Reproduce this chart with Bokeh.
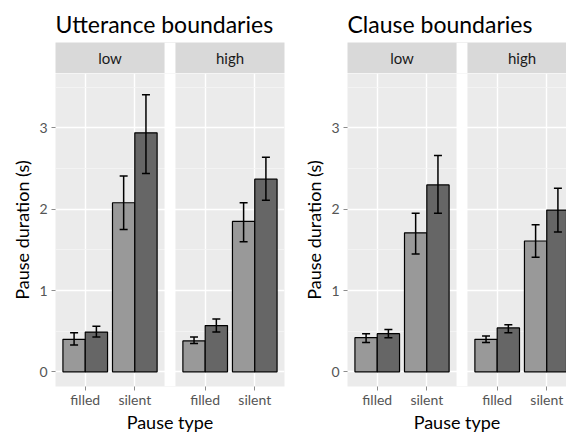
from bokeh.plotting import figure
from bokeh.layouts import row, column
from bokeh.models import Range1d, FixedTicker, ColumnDataSource, Whisker, TeeHead
from bokeh.core.properties import value
from bokeh.embed import file_html
from bokeh.resources import INLINE

# ---------------- data ----------------
pause_types = ["filled", "silent"]
facets = ["low", "high"]
panel_titles = ["Utterance boundaries", "Clause boundaries"]
y_ticks = [0, 1, 2, 3]
y_minor = [0.5, 1.5, 2.5, 3.5]

# Utterance boundaries: two groups (light / dark) per facet
utt_low_a = [0.40, 2.08]
utt_low_a_lo = [0.33, 1.75]
utt_low_a_hi = [0.48, 2.41]
utt_low_b = [0.49, 2.94]
utt_low_b_lo = [0.43, 2.44]
utt_low_b_hi = [0.56, 3.41]
utt_high_a = [0.38, 1.85]
utt_high_a_lo = [0.35, 1.60]
utt_high_a_hi = [0.43, 2.08]
utt_high_b = [0.57, 2.37]
utt_high_b_lo = [0.49, 2.11]
utt_high_b_hi = [0.65, 2.64]

# Clause boundaries
cl_low_a = [0.42, 1.71]
cl_low_a_lo = [0.36, 1.45]
cl_low_a_hi = [0.47, 1.95]
cl_low_b = [0.47, 2.30]
cl_low_b_lo = [0.42, 1.95]
cl_low_b_hi = [0.52, 2.66]
cl_high_a = [0.40, 1.61]
cl_high_a_lo = [0.36, 1.41]
cl_high_a_hi = [0.44, 1.81]
cl_high_b = [0.54, 1.99]
cl_high_b_lo = [0.48, 1.72]
cl_high_b_hi = [0.58, 2.26]

# ---------------- styling / layout ----------------
FONT = "Lato"
PANEL_BG = "#EBEBEB"
STRIP_BG = "#D9D9D9"
COL_A = "#999999"
COL_B = "#666666"
STEP = 2.42           # x offset between facets (panel width 2.2 + gap)
GAP_L, GAP_R = 2.6, 0.4 + STEP
DODGE = 0.225
BAR_W = 0.45
Y0, Y1 = -0.18, 3.67
LEFT_B = 55
STRIP_H = 31
TOP_B = 42
MAIN_H = 362
BOTTOM_B = 48
UNIT_PX = 229 / (2.6 + STEP - 0.4)


def make_half(title, groups, width, right_border):
    frame_w = width - LEFT_B - right_border
    xr = Range1d(0.4, 0.4 + frame_w / UNIT_PX)

    # strip + title figure
    s = figure(width=width, height=TOP_B + STRIP_H, x_range=xr, y_range=Range1d(0, 1),
               output_backend="svg", toolbar_location=None,
               x_axis_location=None, y_axis_location=None,
               min_border_left=LEFT_B, min_border_right=right_border,
               min_border_top=TOP_B, min_border_bottom=0, title=title)
    s.background_fill_color = STRIP_BG
    s.border_fill_color = "white"
    s.outline_line_color = None
    s.grid.visible = False
    s.title.text_font = FONT
    s.title.text_font_size = "23px"
    s.title.text_font_style = "normal"
    s.title.text_color = "black"
    s.title.align = "left"
    s.title.standoff = 10
    s.title.offset = 0
    s.quad(left=[GAP_L], right=[GAP_R], bottom=[0], top=[1],
           fill_color="white", line_color=None)
    s.text(x=[1.5 + i * STEP for i in range(len(facets))], y=[0.5] * len(facets),
           text=facets, text_font=value(FONT), text_font_size="15px",
           text_color="#1A1A1A", text_align="center", text_baseline="middle")

    # main panel figure
    p = figure(width=width, height=MAIN_H, x_range=xr, y_range=Range1d(Y0, Y1),
               output_backend="svg", toolbar_location=None,
               min_border_left=LEFT_B, min_border_right=right_border,
               min_border_top=0, min_border_bottom=BOTTOM_B)
    p.background_fill_color = PANEL_BG
    p.border_fill_color = "white"
    p.outline_line_color = None

    p.yaxis.ticker = FixedTicker(ticks=y_ticks, minor_ticks=y_minor)
    xt = []
    overrides = {}
    for f in range(len(facets)):
        for i, pt in enumerate(pause_types):
            xv = round(i + 1 + f * STEP, 4)
            xt.append(xv)
            overrides[xv] = pt
    p.xaxis.ticker = FixedTicker(ticks=xt)
    p.xaxis.major_label_overrides = overrides

    for ax in (p.xaxis[0], p.yaxis[0]):
        ax.axis_line_color = None
        ax.major_tick_in = 0
        ax.major_tick_out = 4
        ax.major_tick_line_color = "#8C8C8C"
        ax.minor_tick_line_color = None
        ax.major_label_text_font = FONT
        ax.major_label_text_font_size = "14px"
        ax.major_label_text_color = "#555555"
        ax.axis_label_text_font = FONT
        ax.axis_label_text_font_size = "18px"
        ax.axis_label_text_font_style = "normal"
        ax.axis_label_text_color = "black"
    p.xaxis.axis_label = "Pause type"
    p.yaxis.axis_label = "Pause duration (s)"
    p.xaxis.major_label_standoff = 0
    p.xaxis.axis_label_standoff = 0
    p.yaxis.major_label_standoff = 4
    p.yaxis.axis_label_standoff = 3

    p.xgrid.grid_line_color = "white"
    p.xgrid.grid_line_width = 1.4
    p.ygrid.grid_line_color = "white"
    p.ygrid.grid_line_width = 1.4
    p.ygrid.minor_grid_line_color = "#F5F5F5"
    p.ygrid.minor_grid_line_width = 0.8

    # white gap between facets
    p.quad(left=[GAP_L], right=[GAP_R], bottom=[Y0], top=[Y1],
           fill_color="white", line_color=None)

    for f, (a, a_lo, a_hi, b, b_lo, b_hi) in enumerate(groups):
        for vals, lo, hi, off, col in ((a, a_lo, a_hi, -DODGE, COL_A),
                                        (b, b_lo, b_hi, DODGE, COL_B)):
            xs = [i + 1 + f * STEP + off for i in range(len(pause_types))]
            src = ColumnDataSource(dict(x=xs, top=vals, lo=lo, hi=hi))
            p.vbar(x="x", top="top", bottom=0, width=BAR_W, source=src,
                   fill_color=col, line_color="black", line_width=1.2)
            w = Whisker(source=src, base="x", upper="hi", lower="lo",
                        dimension="height", line_color="black", line_width=1.5,
                        upper_head=TeeHead(size=8, line_color="black", line_width=1.5),
                        lower_head=TeeHead(size=8, line_color="black", line_width=1.5))
            w.level = "overlay"
            p.add_layout(w)

    return column(s, p, spacing=0)


left = make_half(panel_titles[0], [
    (utt_low_a, utt_low_a_lo, utt_low_a_hi, utt_low_b, utt_low_b_lo, utt_low_b_hi),
    (utt_high_a, utt_high_a_lo, utt_high_a_hi, utt_high_b, utt_high_b_lo, utt_high_b_hi),
], 292, 8)
right = make_half(panel_titles[1], [
    (cl_low_a, cl_low_a_lo, cl_low_a_hi, cl_low_b, cl_low_b_lo, cl_low_b_hi),
    (cl_high_a, cl_high_a_lo, cl_high_a_hi, cl_high_b, cl_high_b_lo, cl_high_b_hi),
], 274, 0)

layout = row(left, right, spacing=0)
open("out.html", "w").write(file_html(layout, INLINE))
